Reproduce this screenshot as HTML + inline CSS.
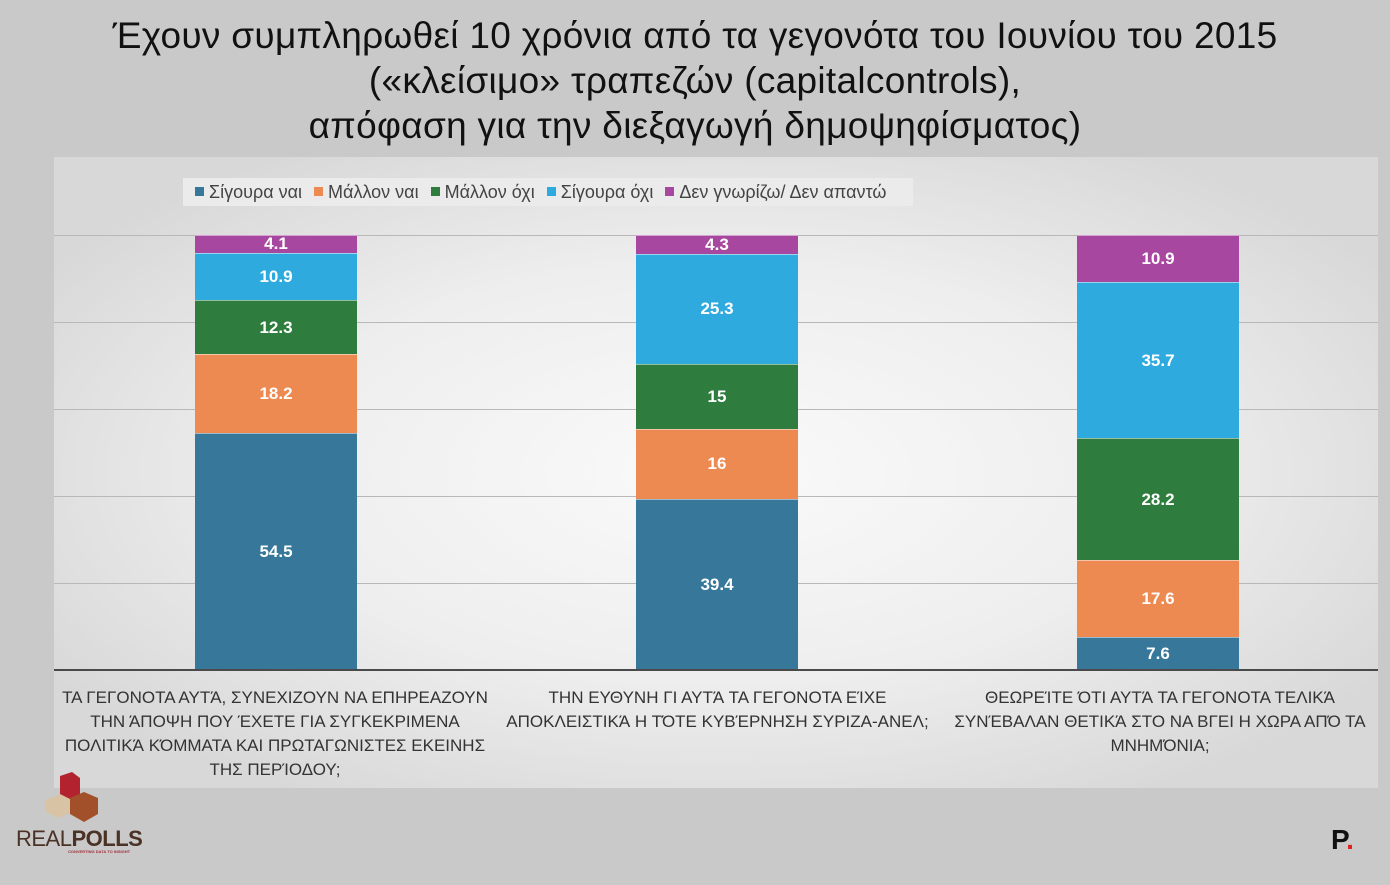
<!DOCTYPE html>
<html><head><meta charset="utf-8"><style>
*{margin:0;padding:0;box-sizing:border-box}
body{width:1390px;height:885px;overflow:hidden;background:#c9c9c9;font-family:"Liberation Sans","DejaVu Sans",sans-serif;position:relative}
.title{position:absolute;left:0;width:1390px;top:13px;text-align:center;font-size:37px;line-height:45px;color:#111;letter-spacing:0.3px}
.panel{position:absolute;left:54px;top:157px;width:1324px;height:631px;background:radial-gradient(ellipse 60% 60% at 50% 50%,#fafafa 0%,#eeeeee 55%,#d8d8d8 100%)}
.grid{position:absolute;left:54px;width:1324px;height:1px;background:#b8b8b8}
.base{position:absolute;left:54px;width:1324px;height:2px;top:669px;background:#4a4a4a}
.seg{position:absolute;color:#fff;font-weight:bold;font-size:17px;display:flex;align-items:center;justify-content:center;border-top:1px solid rgba(255,255,255,.5)}
.legend{position:absolute;left:183px;top:178px;width:730px;height:28px;background:#ebebeb;font-size:18px;color:#444;display:flex;align-items:center;padding-left:12px;gap:12px;white-space:nowrap}
.legend span i{display:inline-block;width:9px;height:9px;margin-right:5px;vertical-align:2px}
.cat{position:absolute;top:686px;text-align:center;font-size:17px;line-height:24px;color:#333}
</style></head><body>
<div class="title">Έχουν συμπληρωθεί 10 χρόνια από τα γεγονότα του Ιουνίου του 2015<br>(«κλείσιμο» τραπεζών (capitalcontrols),<br>απόφαση για την διεξαγωγή δημοψηφίσματος)</div>
<div class="panel"></div>
<div class="grid" style="top:235px"></div><div class="grid" style="top:322px"></div><div class="grid" style="top:409px"></div><div class="grid" style="top:496px"></div><div class="grid" style="top:583px"></div>
<div class="legend">
<span><i style="background:#36779a"></i>Σίγουρα ναι</span>
<span><i style="background:#ec8a52"></i>Μάλλον ναι</span>
<span><i style="background:#2f7d3e"></i>Μάλλον όχι</span>
<span><i style="background:#2eaadf"></i>Σίγουρα όχι</span>
<span><i style="background:#a8479f"></i>Δεν γνωρίζω/ Δεν απαντώ</span>
</div>
<div id="bars"></div>
<div class="base"></div>
<div class="cat" style="left:50px;width:450px">ΤΑ ΓΕΓΟΝΟΤΑ ΑΥΤΆ, ΣΥΝΕΧΙΖΟΥΝ ΝΑ ΕΠΗΡΕΑΖΟΥΝ<br>ΤΗΝ ΆΠΟΨΗ ΠΟΥ ΈΧΕΤΕ ΓΙΑ ΣΥΓΚΕΚΡΙΜΕΝΑ<br>ΠΟΛΙΤΙΚΆ ΚΌΜΜΑΤΑ ΚΑΙ ΠΡΩΤΑΓΩΝΙΣΤΕΣ ΕΚΕΙΝΗΣ<br>ΤΗΣ ΠΕΡΊΟΔΟΥ;</div>
<div class="cat" style="left:490px;width:455px">ΤΗΝ ΕΥΘΥΝΗ ΓΙ ΑΥΤΆ ΤΑ ΓΕΓΟΝΟΤΑ ΕΊΧΕ<br>ΑΠΟΚΛΕΙΣΤΙΚΆ Η ΤΌΤΕ ΚΥΒΈΡΝΗΣΗ ΣΥΡΙΖΑ-ΑΝΕΛ;</div>
<div class="cat" style="left:935px;width:450px">ΘΕΩΡΕΊΤΕ ΌΤΙ ΑΥΤΆ ΤΑ ΓΕΓΟΝΟΤΑ ΤΕΛΙΚΆ<br>ΣΥΝΈΒΑΛΑΝ ΘΕΤΙΚΆ ΣΤΟ ΝΑ ΒΓΕΙ Η ΧΩΡΑ ΑΠΌ ΤΑ<br>ΜΝΗΜΌΝΙΑ;</div>
<svg style="position:absolute;left:44px;top:770px" width="60" height="58" viewBox="0 0 60 58">
<polygon points="16,6 28,2 36,8 36,30 24,34 16,28" fill="#b3232f"/>
<polygon points="2,30 16,24 28,30 28,42 14,48 2,42" fill="#d8c3a5"/>
<polygon points="26,28 40,22 54,28 54,44 40,52 26,44" fill="#a2502a"/>
</svg>
<div style="position:absolute;left:16px;top:826px;font-size:22px;color:#4a3226;letter-spacing:-0.5px">REAL<b>POLLS</b></div>
<div style="position:absolute;left:68px;top:849px;font-size:4px;color:#a0303a;font-weight:bold">CONVERTING DATA TO INSIGHT</div>
<div style="position:absolute;left:1331px;top:824px;font-size:28px;font-weight:bold;color:#111">P<span style="color:#e02020">.</span></div>
<script>
var C=["#36779a","#ec8a52","#2f7d3e","#2eaadf","#a8479f"];
var D=[[195,[54.5,18.2,12.3,10.9,4.1]],[636,[39.4,16,15,25.3,4.3]],[1077,[7.6,17.6,28.2,35.7,10.9]]];
var h="";
D.forEach(function(b){var y=670;b[1].forEach(function(v,i){var hh=v*4.35;y-=hh;
h+='<div class="seg" style="left:'+b[0]+'px;width:162px;top:'+y.toFixed(1)+'px;height:'+hh.toFixed(1)+'px;background:'+C[i]+'">'+v+'</div>';});});
document.getElementById("bars").innerHTML=h;
</script>
</body></html>
